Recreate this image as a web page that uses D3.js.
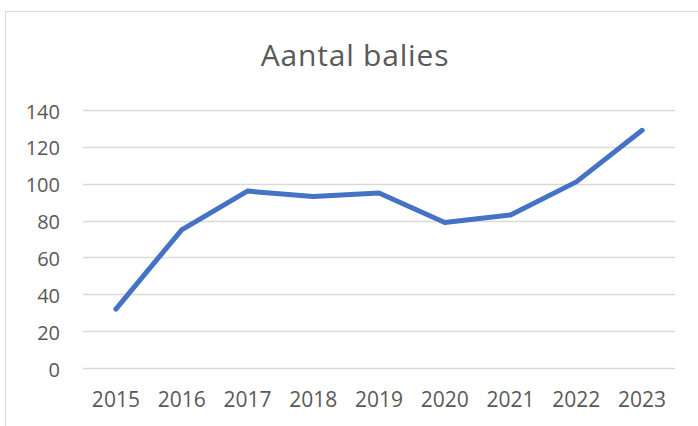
<!DOCTYPE html>
<html>
<head>
<meta charset="utf-8">
<script src="https://cdn.jsdelivr.net/npm/d3@7"></script>
<style>
  body { margin: 0; background: #fff; }
  text { font-family: "Open Sans", sans-serif; fill: #595959; }
</style>
</head>
<body>
<div id="chart"></div>
<script>
// data
const years = ["2015", "2016", "2017", "2018", "2019", "2020", "2021", "2022", "2023"];
const balies = [32, 75, 96, 93, 95, 79, 83, 101, 129];
const yTicks = [0, 20, 40, 60, 80, 100, 120, 140];

const width = 698;
const height = 426;
const margin = {top: 110, right: 23, bottom: 58, left: 83};

const svg = d3.select("#chart")
    .append("svg")
    .attr("width", width)
    .attr("height", height);

// cadre
svg.append("rect")
    .attr("x", 5.5).attr("y", 11.5)
    .attr("width", 720).attr("height", 440)
    .attr("fill", "none")
    .attr("stroke", "#d9d9d9");

svg.append("text")
    .attr("x", 355)
    .attr("y", 66)
    .attr("text-anchor", "middle")
    .style("font-size", "30px")
    .style("letter-spacing", "0.8px")
    .text("Aantal balies");

const x = d3.scaleBand()
    .domain(years)
    .range([margin.left, width - margin.right]);

const y = d3.scaleLinear()
    .domain([0, 140])
    .range([height - margin.bottom, margin.top]);

// grille
svg.append("g")
    .selectAll("line")
    .data(yTicks)
    .enter()
    .append("line")
    .attr("x1", margin.left)
    .attr("x2", width - margin.right)
    .attr("y1", d => Math.round(y(d)) + 0.5)
    .attr("y2", d => Math.round(y(d)) + 0.5)
    .attr("stroke", "#d9d9d9")
    .attr("stroke-width", 1.3);

// axe y
const yAxis = svg.append("g")
    .attr("transform", `translate(${margin.left - 23},0)`)
    .call(d3.axisLeft(y).tickValues(yTicks).tickSize(0).tickPadding(0));
yAxis.select(".domain").remove();
yAxis.selectAll("text").style("font-size", "20px").attr("dy", "0.4em");

// axe x
const xAxis = svg.append("g")
    .attr("transform", `translate(0,${height - margin.bottom})`)
    .call(d3.axisBottom(x).tickSize(0).tickPadding(24));
xAxis.select(".domain").remove();
xAxis.selectAll("text").style("font-size", "21px");

// ligne
const line = d3.line()
    .x((d, i) => x(years[i]) + x.bandwidth() / 2)
    .y(d => y(d));

svg.append("path")
    .datum(balies)
    .attr("d", line)
    .attr("fill", "none")
    .attr("stroke", "#4472c4")
    .attr("stroke-width", 5)
    .attr("stroke-linejoin", "round")
    .attr("stroke-linecap", "round");
</script>
</body>
</html>
